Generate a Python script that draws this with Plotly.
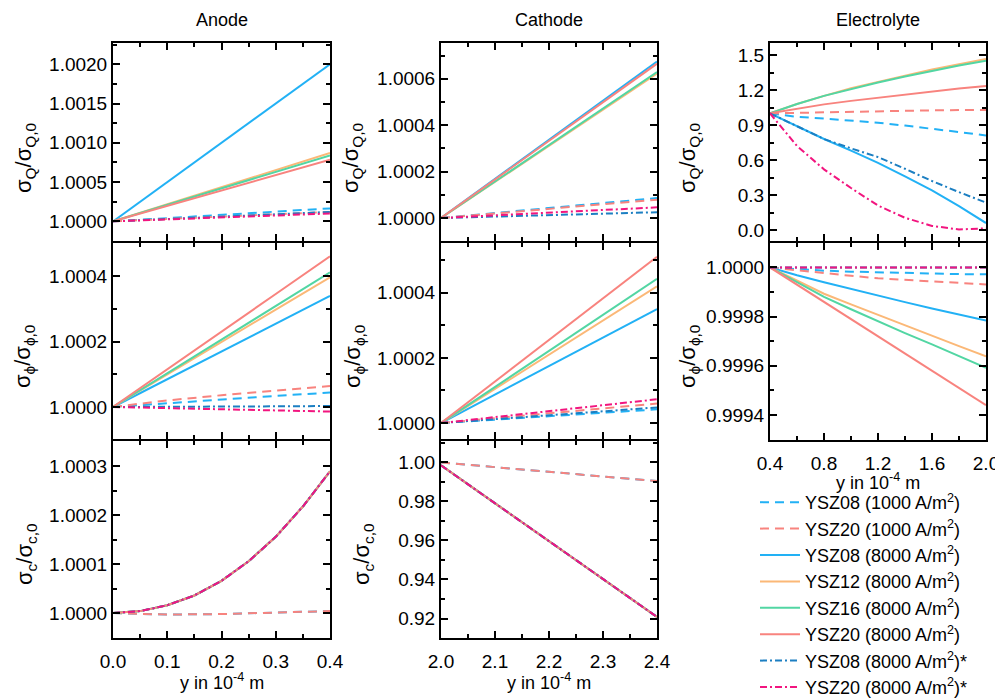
import plotly.graph_objects as go

# x positions (in 10^-4 m)
anode_x = [0.0, 0.1, 0.2, 0.3, 0.4]
anode_x_fine = [0.0, 0.05, 0.1, 0.15, 0.2, 0.25, 0.3, 0.35, 0.4]
cathode_x = [2.0, 2.1, 2.2, 2.3, 2.4]
elec_x = [0.4, 0.6, 0.8, 1.0, 1.2, 1.4, 1.6, 1.8, 2.0]

series_names = [
    "YSZ08 (1000 A/m<sup>2</sup>)",
    "YSZ20 (1000 A/m<sup>2</sup>)",
    "YSZ08 (8000 A/m<sup>2</sup>)",
    "YSZ12 (8000 A/m<sup>2</sup>)",
    "YSZ16 (8000 A/m<sup>2</sup>)",
    "YSZ20 (8000 A/m<sup>2</sup>)",
    "YSZ08 (8000 A/m<sup>2</sup>)*",
    "YSZ20 (8000 A/m<sup>2</sup>)*",
]

# anode, sigma_Q / sigma_Q,0  (order as series_names)
anode_q = [
    [1.0, 1.00004, 1.00008, 1.000122, 1.000165],
    [1.0, 1.00003, 1.00006, 1.00009, 1.00012],
    [1.0, 1.0005, 1.0010, 1.0015, 1.0020],
    [1.0, 1.000218, 1.000436, 1.000654, 1.00087],
    [1.0, 1.00021, 1.00042, 1.00063, 1.00084],
    [1.0, 1.000197, 1.000394, 1.00059, 1.000785],
    [1.0, 1.00003, 1.00006, 1.00009, 1.00012],
    [1.0, 1.000025, 1.00005, 1.000075, 1.0001],
]

# anode, sigma_phi / sigma_phi,0
anode_phi = [
    [1.0, 1.000012, 1.000024, 1.000034, 1.000044],
    [1.0, 1.00002, 1.000036, 1.00005, 1.000064],
    [1.0, 1.000085, 1.00017, 1.000255, 1.00034],
    [1.0, 1.0001, 1.000199, 1.000298, 1.000397],
    [1.0, 1.000103, 1.000206, 1.000309, 1.000412],
    [1.0, 1.000116, 1.000231, 1.000346, 1.000461],
    [1.0, 1.0, 1.000001, 1.000002, 1.000003],
    [1.0, 0.999996, 0.999992, 0.999989, 0.999986],
]

# anode, sigma_c / sigma_c,0 (all 1000 and all 8000 curves coincide)
anode_c_1000 = [1.0, 0.999997, 0.999998, 1.000001, 1.000004]
anode_c_8000 = [1.0, 1.000004, 1.000016, 1.000036, 1.000066,
                1.000106, 1.000156, 1.000218, 1.00029]

# cathode, sigma_Q / sigma_Q,0
cathode_q = [
    [1.0, 1.000022, 1.000043, 1.000065, 1.000086],
    [1.0, 1.00002, 1.00004, 1.00006, 1.000079],
    [1.0, 1.000169, 1.000337, 1.000506, 1.000674],
    [1.0, 1.000155, 1.00031, 1.000466, 1.000622],
    [1.0, 1.000157, 1.000315, 1.000472, 1.000629],
    [1.0, 1.000166, 1.000333, 1.000499, 1.000665],
    [1.0, 1.000006, 1.000012, 1.000018, 1.000025],
    [1.0, 1.000012, 1.000023, 1.000035, 1.000046],
]

# cathode, sigma_phi / sigma_phi,0
cathode_phi = [
    [1.0, 1.00001, 1.000021, 1.000031, 1.000042],
    [1.0, 1.000015, 1.00003, 1.000045, 1.00006],
    [1.0, 1.000088, 1.000175, 1.000263, 1.00035],
    [1.0, 1.000105, 1.00021, 1.000315, 1.00042],
    [1.0, 1.000111, 1.000222, 1.000332, 1.000443],
    [1.0, 1.000128, 1.000256, 1.000383, 1.000511],
    [1.0, 1.000012, 1.000024, 1.000036, 1.000048],
    [1.0, 1.000018, 1.000037, 1.000055, 1.000073],
]

# cathode, sigma_c / sigma_c,0
cathode_c_1000 = [1.0, 0.9975, 0.995, 0.9928, 0.9905]
cathode_c_8000 = [0.9985, 0.979, 0.9597, 0.9402, 0.9208]

# electrolyte, sigma_Q / sigma_Q,0
elec_q = [
    [1.0, 0.97, 0.955, 0.94, 0.92, 0.895, 0.87, 0.84, 0.81],
    [1.0, 1.005, 1.01, 1.015, 1.02, 1.023, 1.026, 1.028, 1.029],
    [1.0, 0.89, 0.78, 0.68, 0.575, 0.46, 0.34, 0.205, 0.06],
    [1.0, 1.08, 1.15, 1.215, 1.27, 1.325, 1.375, 1.42, 1.465],
    [1.0, 1.08, 1.15, 1.21, 1.265, 1.315, 1.365, 1.41, 1.45],
    [1.0, 1.04, 1.077, 1.107, 1.135, 1.163, 1.19, 1.213, 1.234],
    [1.0, 0.89, 0.78, 0.70, 0.625, 0.525, 0.42, 0.325, 0.235],
    [1.0, 0.72, 0.52, 0.36, 0.21, 0.105, 0.035, 0.005, 0.014],
]

# electrolyte, sigma_phi / sigma_phi,0
elec_phi = [
    [1.0, 0.999992, 0.999987, 0.999983, 0.99998, 0.999977, 0.999975, 0.999973, 0.999972],
    [1.0, 0.999988, 0.999977, 0.999966, 0.999956, 0.99995, 0.999944, 0.999937, 0.999931],
    [1.0, 0.999968, 0.99994, 0.999912, 0.999885, 0.999859, 0.999833, 0.999808, 0.999784],
    [1.0, 0.999945, 0.999893, 0.99985, 0.999807, 0.999763, 0.99972, 0.99968, 0.999638],
    [1.0, 0.99994, 0.99988, 0.99983, 0.99978, 0.999733, 0.999687, 0.99964, 0.999592],
    [1.0, 0.99993, 0.99986, 0.99979, 0.99972, 0.99965, 0.99958, 0.99951, 0.99944],
    [1.0, 1.0, 1.0, 1.0, 1.0, 1.0, 1.0, 1.0, 1.0],
    [1.0, 1.0, 1.0, 1.0, 1.0, 1.0, 1.0, 1.0, 1.0],
]

BLUE = "#22b1f5"
SALMON = "#f8837e"
ORANGE = "#fbb877"
GREEN = "#52d6a3"
DBLUE = "#1c7fc2"
MAGENTA = "#f2157f"
DASH = "9px,6px"
DASHDOT = "7px,3px,2px,3px"

series_colors = [BLUE, SALMON, BLUE, ORANGE, GREEN, SALMON, DBLUE, MAGENTA]
series_dash = [DASH, DASH, "solid", "solid", "solid", "solid", DASHDOT, DASHDOT]

# the page body has an 8px margin: the figure starts 8px right and down;
# it is as tall as the window, so its bottom 8px sit just below the view
OFF = 8
W, H = 1003 - OFF, 698
FONT = "Liberation Sans, Arial, sans-serif"

fig = go.Figure()

panels = [
    ("x1", "y1", anode_x, anode_q),
    ("x2", "y2", anode_x, anode_phi),
    ("x3", "y3", [anode_x] * 2 + [anode_x_fine] * 6,
     [anode_c_1000] * 2 + [anode_c_8000] * 6),
    ("x4", "y4", cathode_x, cathode_q),
    ("x5", "y5", cathode_x, cathode_phi),
    ("x6", "y6", cathode_x, [cathode_c_1000] * 2 + [cathode_c_8000] * 6),
    ("x7", "y7", elec_x, elec_q),
    ("x8", "y8", elec_x, elec_phi),
]

for p, (xa, ya, xs, ys) in enumerate(panels):
    for i, name in enumerate(series_names):
        xv = xs[i] if isinstance(xs[0], list) else xs
        fig.add_trace(go.Scatter(
            x=xv, y=ys[i], mode="lines", name=name,
            legendgroup=name, showlegend=(p == 0),
            line=dict(color=series_colors[i], width=2, dash=series_dash[i]),
            xaxis=xa, yaxis=ya,
        ))


def fx(a):
    return (a - OFF) / W


def fy(b):
    return 1 - (b - OFF) / H


def px_x(a, b):
    return [fx(a), fx(b)]


def px_y(top, bottom):
    return [fy(bottom), fy(top)]


def xaxis(dom, rng, dtick, minor, anchor, labels):
    return dict(
        domain=dom, range=rng, anchor=anchor, dtick=dtick, tick0=0,
        tickformat=".1f", showticklabels=labels, automargin=False,
        showline=True, linewidth=2, linecolor="black", mirror="allticks",
        ticks="inside", ticklen=7, tickwidth=2, tickcolor="black",
        minor=dict(ticks="inside", dtick=minor, ticklen=4, tickwidth=2,
                   tickcolor="black"),
        showgrid=False, zeroline=False, ticklabelstandoff=5,
        tickfont=dict(size=19, color="black"),
    )


def yaxis(dom, rng, dtick, minor, fmt, anchor, t0=1):
    return dict(
        domain=dom, range=rng, anchor=anchor, dtick=dtick, tick0=t0,
        tickformat=fmt, automargin=False,
        showline=True, linewidth=2, linecolor="black", mirror="allticks",
        ticks="inside", ticklen=7, tickwidth=2, tickcolor="black",
        minor=dict(ticks="inside", dtick=minor, ticklen=4, tickwidth=2,
                   tickcolor="black"),
        showgrid=False, zeroline=False,
        tickfont=dict(size=19, color="black"),
    )


ya_q = "σ<sub>Q</sub>/σ<sub>Q,0</sub>"
ya_phi = "σ<sub>ϕ</sub>/σ<sub>ϕ,0</sub>"
ya_c = "σ<sub>c</sub>/σ<sub>c,0</sub>"
xa_title = "y in 10<sup>-4</sup> m"

# rows share their border line: domains are offset by the line width
row1 = px_y(43, 241)
row2 = px_y(243, 439)
row3 = px_y(441, 638)
erow2 = px_y(243, 440)
col1 = px_x(113, 330)
col2 = px_x(441, 657)
col3 = px_x(770, 986)

fig.update_layout(
    width=W, height=H,
    margin=dict(l=0, r=0, t=0, b=0),
    paper_bgcolor="white", plot_bgcolor="white",
    font=dict(family=FONT, color="black"),
    showlegend=True,
    legend=dict(
        x=fx(755), y=0, xanchor="left", yanchor="bottom",
        font=dict(size=18, color="black"), bgcolor="rgba(0,0,0,0)",
        itemwidth=40, tracegroupgap=0,
    ),
    xaxis1=xaxis(col1, [0, 0.4], 0.1, 0.05, "y1", False),
    xaxis2=xaxis(col1, [0, 0.4], 0.1, 0.05, "y2", False),
    xaxis3=xaxis(col1, [0, 0.4], 0.1, 0.05, "y3", True),
    xaxis4=xaxis(col2, [2.0, 2.4], 0.1, 0.05, "y4", False),
    xaxis5=xaxis(col2, [2.0, 2.4], 0.1, 0.05, "y5", False),
    xaxis6=xaxis(col2, [2.0, 2.4], 0.1, 0.05, "y6", True),
    xaxis7=xaxis(col3, [0.4, 2.0], 0.4, 0.2, "y7", False),
    xaxis8=xaxis(col3, [0.4, 2.0], 0.4, 0.2, "y8", True),
    yaxis1=yaxis(row1, [0.99975, 1.00227], 0.0005, 0.00025, ".4f", "x1"),
    yaxis2=yaxis(row2, [0.999902, 1.000502], 0.0002, 0.0001, ".4f", "x2"),
    yaxis3=yaxis(row3, [0.999949, 1.000352], 0.0001, 0.00005, ".4f", "x3"),
    yaxis4=yaxis(row1, [0.999901, 1.000754], 0.0002, 0.0001, ".4f", "x4"),
    yaxis5=yaxis(row2, [0.999951, 1.000553], 0.0002, 0.0001, ".4f", "x5"),
    yaxis6=yaxis(row3, [0.910, 1.011], 0.02, 0.01, ".2f", "x6"),
    yaxis7=yaxis(row1, [-0.094, 1.603], 0.3, 0.15, ".1f", "x7", t0=0),
    yaxis8=yaxis(erow2, [0.999298, 1.0000995], 0.0002, 0.0001, ".4f", "x8"),
)


def label(text, x, y, size, angle=0):
    fig.add_annotation(
        text=text, x=fx(x), y=fy(y), xref="paper", yref="paper",
        xanchor="center", yanchor="middle", textangle=angle,
        showarrow=False, font=dict(size=size, color="black"),
    )


# column titles
for txt, cx in [("Anode", 222), ("Cathode", 549), ("Electrolyte", 878)]:
    label(txt, cx, 20, 18)

# x-axis titles
label(xa_title, 222, 681, 18)
label(xa_title, 549, 681, 18)
label(xa_title, 878, 481, 18)

# y-axis titles
label(ya_q, 25, 158, 22, -90)
label(ya_phi, 24, 357, 22, -90)
label(ya_c, 26, 554, 22, -90)
label(ya_q, 352, 158, 22, -90)
label(ya_phi, 354, 357, 22, -90)
label(ya_c, 363, 554, 22, -90)
label(ya_q, 689, 158, 22, -90)
label(ya_phi, 689, 357, 22, -90)

fig.write_html("out.html")
